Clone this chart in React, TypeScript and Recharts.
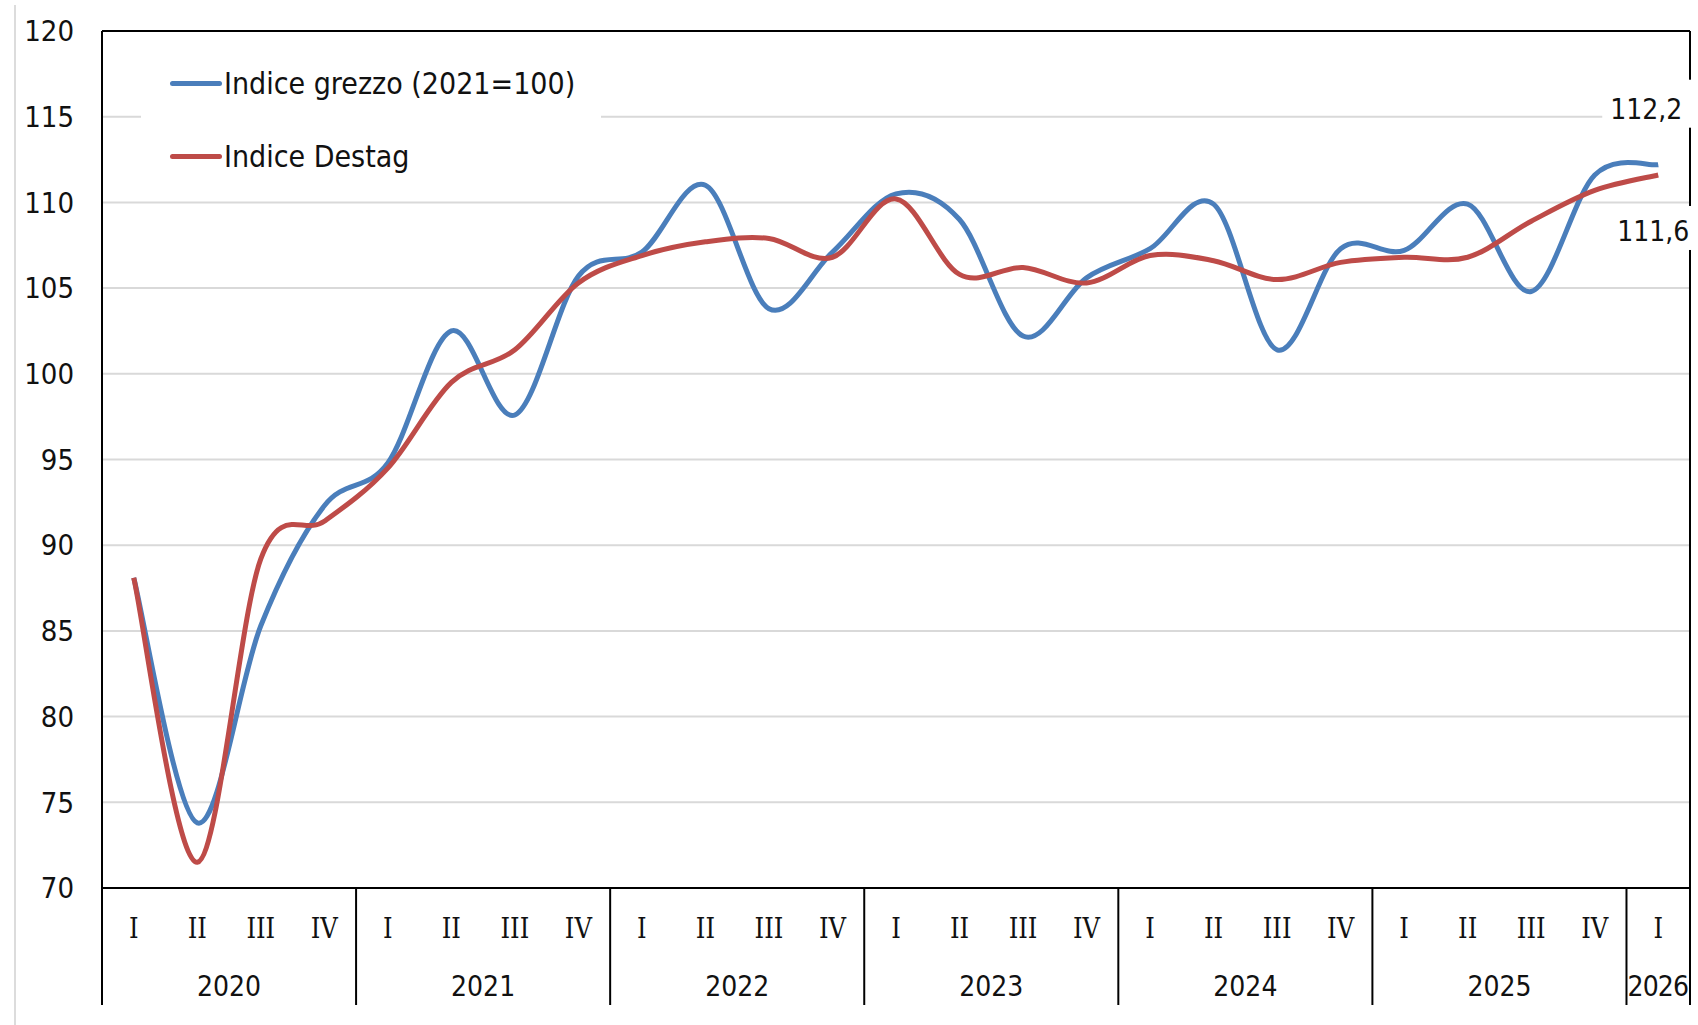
import React from "react";
import {
  LineChart,
  Line,
  XAxis,
  YAxis,
  CartesianGrid,
  Legend,
  LabelList,
  ReferenceLine,
} from "recharts";

// periods shown on the category axis: "<year> <quarter>"
const periods = [
  "2020 I", "2020 II", "2020 III", "2020 IV",
  "2021 I", "2021 II", "2021 III", "2021 IV",
  "2022 I", "2022 II", "2022 III", "2022 IV",
  "2023 I", "2023 II", "2023 III", "2023 IV",
  "2024 I", "2024 II", "2024 III", "2024 IV",
  "2025 I", "2025 II", "2025 III", "2025 IV",
  "2026 I",
];

const grezzo = [
  88.1, 73.8, 85.3, 92.3,
  94.8, 102.5, 97.6, 105.7,
  107.1, 111.0, 103.8, 107.1,
  110.5, 109.0, 102.2, 105.6,
  107.3, 109.9, 101.4, 107.3,
  107.2, 109.9, 104.8, 111.6,
  112.2,
];

const destag = [
  88.1, 71.5, 89.2, 91.4,
  94.5, 99.5, 101.4, 105.3,
  106.9, 107.7, 107.9, 106.8,
  110.2, 105.8, 106.2, 105.3,
  106.9, 106.6, 105.5, 106.5,
  106.8, 106.8, 108.9, 110.7,
  111.6,
];

const seriesNames = ["Indice grezzo (2021=100)", "Indice Destag"];
const yTicks = [70, 75, 80, 85, 90, 95, 100, 105, 110, 115, 120];

const data = periods.map((period, i) => ({
  period,
  grezzo: grezzo[i],
  destag: destag[i],
}));

// layout
const W = 1698;
const H = 1025;
const MARGIN = { top: 31, right: 7, left: 0, bottom: 0 };
const Y_W = 102;
const Y_R = 1;
const X_H = 137;
const BAND = (W - MARGIN.left - MARGIN.right - Y_W - Y_R) / periods.length;

const BLUE = "#4a7ebb";
const RED = "#be4b48";
const FONT = "'DejaVu Sans Condensed', 'DejaVu Sans', sans-serif";
const ROMAN_FONT = "'DejaVu Serif Condensed', 'DejaVu Serif', serif";

// Excel-like smoothed line (Catmull-Rom, tension 1/6)
function excelSmooth(context: any) {
  let xs: number[] = [];
  let ys: number[] = [];
  return {
    areaStart() {},
    areaEnd() {},
    lineStart() {
      xs = [];
      ys = [];
    },
    lineEnd() {
      const n = xs.length;
      if (!n) return;
      context.moveTo(xs[0], ys[0]);
      for (let i = 0; i < n - 1; i++) {
        const p = Math.max(i - 1, 0);
        const q = Math.min(i + 2, n - 1);
        const c1x = xs[i] + (xs[i + 1] - xs[p]) / 6;
        const c1y = ys[i] + (ys[i + 1] - ys[p]) / 6;
        const c2x = xs[i + 1] - (xs[q] - xs[i]) / 6;
        const c2y = ys[i + 1] - (ys[q] - ys[i]) / 6;
        context.bezierCurveTo(c1x, c1y, c2x, c2y, xs[i + 1], ys[i + 1]);
      }
    },
    point(x: number, y: number) {
      xs.push(+x);
      ys.push(+y);
    },
  };
}

function PeriodTick(props: any) {
  const { x, y, payload } = props;
  const i = props.index ?? payload.index;
  const [year, q] = periods[i].split(" ");
  const first = i === 0 || periods[i - 1].split(" ")[0] !== year;
  const last = i === periods.length - 1;
  const count = periods.filter((p) => p.startsWith(year)).length;
  return (
    <g>
      <text
        x={x}
        y={y + 40}
        textAnchor="middle"
        dominantBaseline="central"
        fontFamily={ROMAN_FONT}
        fontSize={27}
        fill="#111"
      >
        {q}
      </text>
      {first && (
        <line x1={x - BAND / 2} x2={x - BAND / 2} y1={y} y2={y + 117} stroke="#000" strokeWidth={2} />
      )}
      {first && (
        <text
          x={x + ((count - 1) * BAND) / 2}
          y={y + 98}
          textAnchor="middle"
          dominantBaseline="central"
          fontFamily={FONT}
          fontSize={28}
          fill="#111"
          textLength={count === 1 ? BAND - 2 : undefined}
        >
          {year}
        </text>
      )}
      {last && (
        <line x1={x + BAND / 2} x2={x + BAND / 2} y1={y} y2={y + 117} stroke="#000" strokeWidth={2} />
      )}
    </g>
  );
}

const fmt = (v: number) => v.toFixed(1).replace(".", ",");

function makeEndLabel(tx: number, ty: number, box: [number, number, number, number]) {
  return (props: any) => {
    if (props.index !== periods.length - 1) return null;
    const x = props.x ?? props.viewBox?.x;
    const y = props.y ?? props.viewBox?.y;
    const [bx0, by0, bx1, by1] = box;
    return (
      <g>
        <rect x={x + bx0} y={y + by0} width={bx1 - bx0} height={by1 - by0} fill="#fff" />
        <text
          x={x + tx}
          y={y + ty}
          textAnchor="middle"
          dominantBaseline="central"
          fontFamily={FONT}
          fontSize={28}
          fill="#111"
        >
          {fmt(props.value)}
        </text>
      </g>
    );
  };
}

function renderLegend(props: any) {
  const items = [...(props.payload || [])].sort(
    (a: any, b: any) => seriesNames.indexOf(a.value) - seriesNames.indexOf(b.value)
  );
  return (
    <div style={{ width: 460, height: 130, background: "#fff", position: "relative" }}>
      {items.map((e: any, i: number) => (
        <div
          key={e.value}
          style={{
            position: "absolute",
            left: 29,
            top: 29 + i * 73 - 20,
            height: 40,
            display: "flex",
            alignItems: "center",
          }}
        >
          <span style={{ width: 52, height: 5, background: e.color, borderRadius: 3, display: "inline-block" }} />
          <span style={{ marginLeft: 2, fontSize: 30, color: "#111", fontFamily: FONT, whiteSpace: "nowrap" }}>
            {e.value}
          </span>
        </div>
      ))}
    </div>
  );
}

export default function App() {
  return (
    <div style={{ position: "absolute", left: 0, top: 0, width: W, height: H, background: "#fff" }}>
      <div style={{ position: "absolute", left: 14, top: 5, width: 2, height: H - 5, background: "#dcdcdc" }} />
      <LineChart width={W} height={H} data={data} margin={MARGIN}>
        <CartesianGrid vertical={false} stroke="#d9d9d9" strokeWidth={2} />
        <XAxis
          dataKey="period"
          height={X_H}
          interval={0}
          padding={{ left: BAND / 2, right: BAND / 2 }}
          tickLine={false}
          tickSize={0}
          tickMargin={0}
          axisLine={{ stroke: "#000", strokeWidth: 2 }}
          tick={<PeriodTick />}
        />
        <YAxis
          domain={[70, 120]}
          ticks={yTicks}
          width={Y_W}
          tickLine={false}
          tickSize={0}
          tickMargin={28}
          axisLine={{ stroke: "#000", strokeWidth: 2 }}
          tick={{ fontSize: 29, fill: "#111", fontFamily: FONT }}
        />
        <YAxis
          yAxisId="right"
          orientation="right"
          width={Y_R}
          domain={[70, 120]}
          ticks={yTicks}
          tick={false}
          tickLine={false}
          axisLine={{ stroke: "#000", strokeWidth: 2 }}
        />
        <ReferenceLine y={120} stroke="#000" strokeWidth={2} />
        <Legend
          content={renderLegend}
          layout="horizontal"
          verticalAlign="middle"
          align="center"
          width={460}
          wrapperStyle={{ left: 141, top: 54, width: 460, height: 130 }}
        />
        <Line
          name={seriesNames[0]}
          dataKey="grezzo"
          type={excelSmooth as any}
          stroke={BLUE}
          strokeWidth={5}
          dot={false}
          activeDot={false}
          isAnimationActive={false}
        >
          <LabelList dataKey="grezzo" content={makeEndLabel(-12, -55, [-56, -85, 38, -37])} />
        </Line>
        <Line
          name={seriesNames[1]}
          dataKey="destag"
          type={excelSmooth as any}
          stroke={RED}
          strokeWidth={5}
          dot={false}
          activeDot={false}
          isAnimationActive={false}
        >
          <LabelList dataKey="destag" content={makeEndLabel(-5, 57, [-52, 31, 38, 75])} />
        </Line>
      </LineChart>
    </div>
  );
}
